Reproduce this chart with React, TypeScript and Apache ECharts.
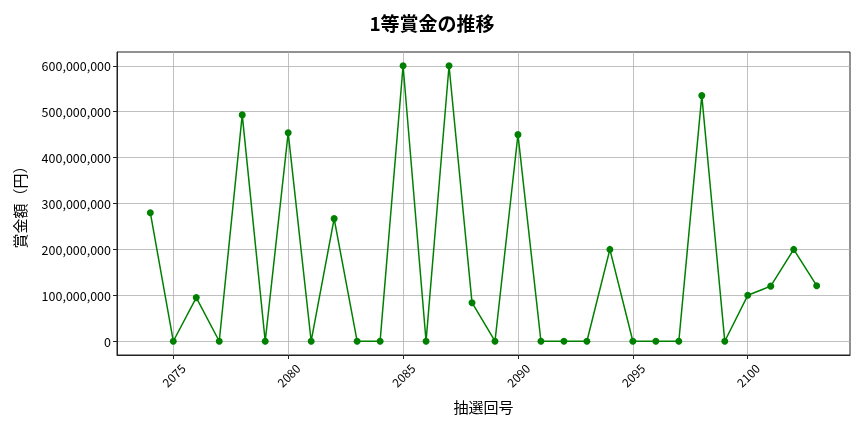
import { useEffect, useRef } from 'react'
import * as echarts from 'echarts'

// 抽選回号
const drawNumbers = [
  2074, 2075, 2076, 2077, 2078, 2079, 2080, 2081, 2082, 2083,
  2084, 2085, 2086, 2087, 2088, 2089, 2090, 2091, 2092, 2093,
  2094, 2095, 2096, 2097, 2098, 2099, 2100, 2101, 2102, 2103
]
// 1等賞金（円）
const prizes = [
  280000000, 0, 95000000, 0, 493000000, 0, 454000000, 0, 267000000, 0,
  0, 600000000, 0, 600000000, 84000000, 0, 450000000, 0, 0, 0,
  200000000, 0, 0, 0, 535000000, 0, 100000000, 120000000, 200000000, 121000000
]
// 目盛り
const xTicks = [2075, 2080, 2085, 2090, 2095, 2100]
const yTicks = [0, 100000000, 200000000, 300000000, 400000000, 500000000, 600000000]

const font = '"Noto Sans CJK JP", "Noto Sans", sans-serif'

const App: React.FC = () => {
  const chartRef = useRef<HTMLDivElement | null>(null)

  useEffect(() => {
    if (chartRef.current === null) return
    const chart = echarts.init(chartRef.current, undefined, { renderer: 'svg' })
    chart.setOption({
      animation: false,
      textStyle: { fontFamily: font },
      title: {
        text: '1等賞金の推移',
        left: 'center',
        top: 8,
        textStyle: { fontFamily: font, fontSize: 19, fontWeight: 'bold', color: '#000' }
      },
      grid: {
        left: 117,
        right: 14,
        top: 52,
        bottom: 77,
        show: true,
        borderColor: '#222',
        borderWidth: 1,
        backgroundColor: '#fff'
      },
      xAxis: {
        type: 'value',
        min: 2072.55,
        max: 2104.45,
        name: '抽選回号',
        nameLocation: 'middle',
        nameGap: 44,
        nameTextStyle: { fontFamily: font, fontSize: 15, color: '#000' },
        axisLine: { show: true, onZero: false, lineStyle: { color: '#222' } },
        axisTick: { show: true, length: 4, customValues: xTicks, lineStyle: { color: '#222' } },
        axisLabel: {
          customValues: xTicks,
          rotate: 45,
          align: 'center',
          verticalAlign: 'middle',
          fontSize: 12,
          color: '#000',
          margin: 20,
          formatter: (v: number) => String(v)
        },
        splitLine: { show: true, lineStyle: { color: '#b0b0b0', width: 0.8 } }
      },
      yAxis: {
        type: 'value',
        min: -30000000,
        max: 630000000,
        name: '賞金額（円）',
        nameLocation: 'middle',
        nameGap: 90,
        nameTextStyle: { fontFamily: font, fontSize: 15, color: '#000' },
        axisLine: { show: true, lineStyle: { color: '#222' } },
        axisTick: { show: true, length: 4, customValues: yTicks, lineStyle: { color: '#222' } },
        axisLabel: {
          customValues: yTicks,
          fontSize: 12.5,
          color: '#000',
          margin: 6,
          formatter: (v: number) => v.toLocaleString('en-US')
        },
        splitLine: { show: true, lineStyle: { color: '#b0b0b0', width: 0.8 } }
      },
      series: [
        {
          type: 'line',
          data: drawNumbers.map((n, i) => [n, prizes[i]]),
          symbol: 'circle',
          symbolSize: 7,
          itemStyle: { color: '#008000' },
          lineStyle: { color: '#008000', width: 1.5 }
        }
      ]
    })
    return () => {
      chart.dispose()
    }
  }, [])

  return (
    <div
      ref={chartRef}
      style={{ position: 'fixed', left: 0, top: 0, width: 864, height: 432 }}
    ></div>
  )
}

export default App
